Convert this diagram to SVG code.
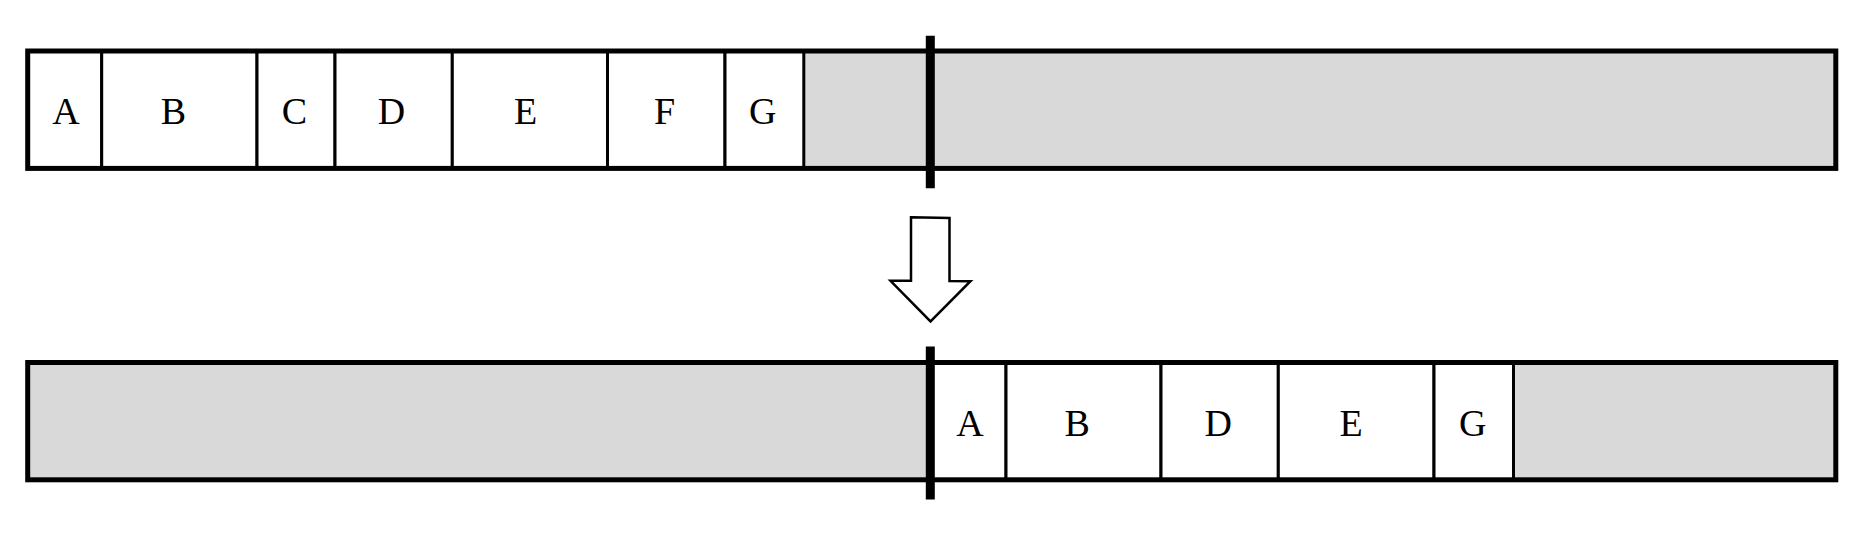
<svg xmlns="http://www.w3.org/2000/svg" width="1860" height="533" viewBox="0 0 1860 533">
<style>
.bar{stroke:#000;stroke-width:5;}
.cell{fill:#fff;stroke:#000;stroke-width:3;}
.free{fill:#D9D9D9;}
.lbl{font-family:"Liberation Serif","Times New Roman",serif;font-size:38px;fill:#000;text-anchor:middle;}
.mark{stroke:#000;stroke-width:9;}
.arrow{fill:#fff;stroke:#000;stroke-width:2.5;stroke-linejoin:miter;}
</style>
<rect width="1860" height="533" fill="#fff"/>
<g id="top-bar">
<rect class="free" x="27.7" y="51" width="1808.1" height="117.4"/>
<g id="top-A"><rect class="cell" x="27.7" y="51" width="74" height="117.4"/><text class="lbl" x="66" y="124">A</text></g>
<g id="top-B"><rect class="cell" x="101.7" y="51" width="155.3" height="117.4"/><text class="lbl" x="173.5" y="124">B</text></g>
<g id="top-C"><rect class="cell" x="257" y="51" width="78" height="117.4"/><text class="lbl" x="294.5" y="124">C</text></g>
<g id="top-D"><rect class="cell" x="335" y="51" width="117.3" height="117.4"/><text class="lbl" x="391.5" y="124">D</text></g>
<g id="top-E"><rect class="cell" x="452.3" y="51" width="155.2" height="117.4"/><text class="lbl" x="525.5" y="124">E</text></g>
<g id="top-F"><rect class="cell" x="607.5" y="51" width="117.5" height="117.4"/><text class="lbl" x="664.5" y="124">F</text></g>
<g id="top-G"><rect class="cell" x="725" y="51" width="78.8" height="117.4"/><text class="lbl" x="762.7" y="124">G</text></g>
<rect class="bar" x="27.7" y="51" width="1808.1" height="117.4" fill="none"/>
</g>
<g id="bottom-bar">
<rect class="free" x="27.7" y="362.5" width="1808.1" height="117.3"/>
<g id="bot-A"><rect class="cell" x="930.3" y="362.5" width="75.7" height="117.3"/><text class="lbl" x="970" y="435.7">A</text></g>
<g id="bot-B"><rect class="cell" x="1006" y="362.5" width="155" height="117.3"/><text class="lbl" x="1077.3" y="435.7">B</text></g>
<g id="bot-D"><rect class="cell" x="1161" y="362.5" width="117.3" height="117.3"/><text class="lbl" x="1218.3" y="435.7">D</text></g>
<g id="bot-E"><rect class="cell" x="1278.3" y="362.5" width="155.7" height="117.3"/><text class="lbl" x="1351" y="435.7">E</text></g>
<g id="bot-G"><rect class="cell" x="1434" y="362.5" width="79.5" height="117.3"/><text class="lbl" x="1472.7" y="435.7">G</text></g>
<rect class="bar" x="27.7" y="362.5" width="1808.1" height="117.3" fill="none"/>
</g>
<g id="connectors">
<line class="mark" x1="930.3" y1="35.7" x2="930.3" y2="188.3"/>
<line class="mark" x1="930.3" y1="346.4" x2="930.3" y2="499.4"/>
<polygon class="arrow" points="911,217.3 949.5,218 949.5,281 970.5,281.2 930.5,321.5 890.5,280.8 911,280.8"/>
</g>
</svg>
